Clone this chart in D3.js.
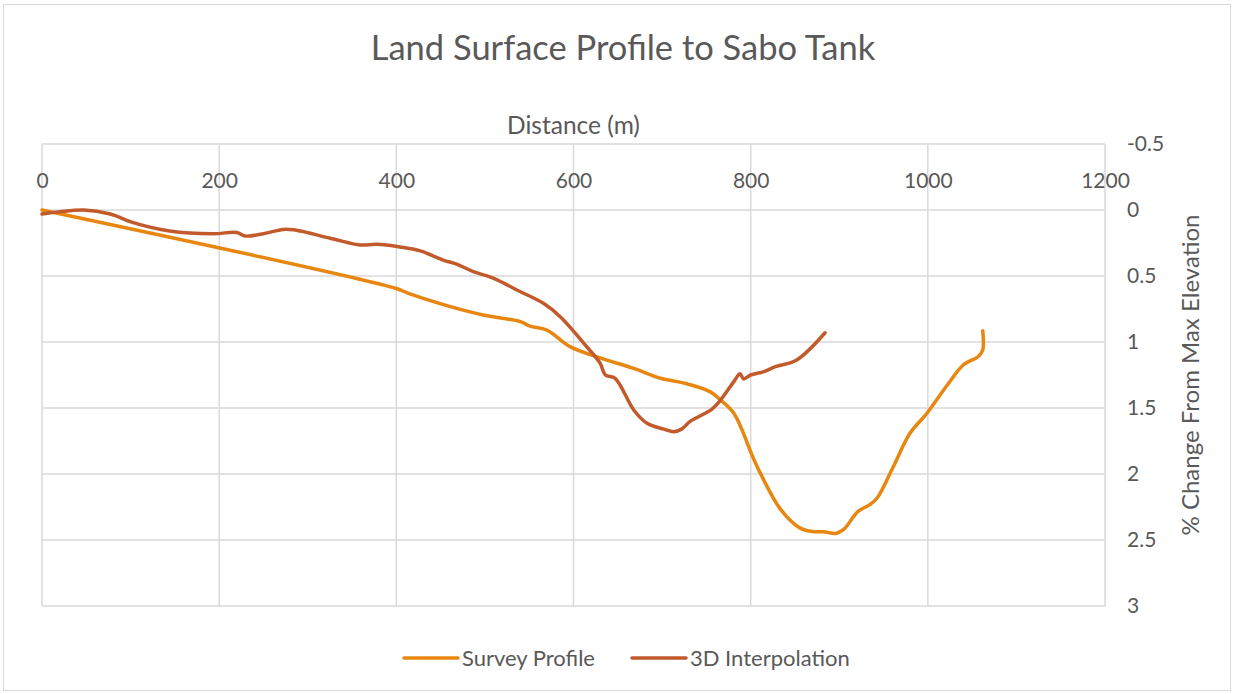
<!DOCTYPE html>
<html>
<head>
<meta charset="utf-8">
<script src="https://cdn.jsdelivr.net/npm/d3@7"></script>
<style>
  body { margin: 0; background: #fff; }
  text { font-family: Lato, "Open Sans", sans-serif; fill: #595959; }
</style>
</head>
<body>
<div id="chart"></div>
<script>
var width = 1234;
var height = 694;

// distance (m) and % change from max elevation
var surveyDist = [0, 400, 413, 460, 498, 540, 551, 570, 596, 630, 668, 698, 724, 754, 766, 781,
                  803, 811, 834, 856, 871, 882, 896, 905, 921, 935, 943, 961, 980, 999, 1022,
                  1040, 1057, 1062, 1062];
var surveyChange = [0, 0.595, 0.63, 0.73, 0.795, 0.846, 0.88, 0.91, 1.035, 1.12, 1.2, 1.275, 1.31,
                    1.376, 1.44, 1.54, 1.88, 1.995, 2.27, 2.41, 2.437, 2.437, 2.45, 2.42, 2.285,
                    2.23, 2.18, 1.945, 1.69, 1.54, 1.326, 1.174, 1.11, 1.06, 0.915];

var interpDist = [0, 20, 47, 77, 103, 144, 193, 220, 229, 250, 272, 284, 329, 359, 378, 404,
                  427, 453, 468, 487, 510, 536, 566, 585, 615, 630, 636, 647, 668, 683, 702,
                  713, 722, 732, 756, 766, 781, 788, 792, 800, 815, 828, 852, 884];
var interpChange = [0.03, 0.013, 0, 0.03, 0.096, 0.159, 0.18, 0.17, 0.197, 0.18, 0.147, 0.15,
                    0.22, 0.265, 0.26, 0.28, 0.31, 0.379, 0.41, 0.467, 0.518, 0.606, 0.707,
                    0.808, 1.036, 1.16, 1.25, 1.275, 1.515, 1.616, 1.66, 1.68, 1.66, 1.6, 1.51,
                    1.44, 1.3, 1.24, 1.28, 1.25, 1.225, 1.187, 1.136, 0.93];

var xTicks = [0, 200, 400, 600, 800, 1000, 1200];
var yTicks = [-0.5, 0, 0.5, 1, 1.5, 2, 2.5, 3];

var seriesNames = ["Survey Profile", "3D Interpolation"];
var seriesColors = ["#e8870f", "#c25a2c"];

var plot = {left: 42, right: 1105, top: 144, bottom: 606};

var x = d3.scaleLinear().domain([0, 1200]).range([plot.left, plot.right]);
var y = d3.scaleLinear().domain([-0.5, 3]).range([plot.top, plot.bottom]);

var svg = d3.select("#chart")
    .append("svg")
    .attr("width", width)
    .attr("height", height);

svg.append("rect")
    .attr("x", 3.5).attr("y", 4.5)
    .attr("width", width - 7).attr("height", height - 8)
    .attr("fill", "#fff")
    .attr("stroke", "#d9d9d9");

svg.append("text")
    .attr("x", 623).attr("y", 60)
    .attr("text-anchor", "middle")
    .style("font-size", "34.5px")
    .text("Land Surface Profile to Sabo Tank");

// grid
var grid = svg.append("g");
grid.selectAll("line.h")
    .data(yTicks)
    .enter().append("line")
    .attr("class", "h")
    .attr("x1", plot.left).attr("x2", plot.right)
    .attr("y1", function(d) {return y(d)})
    .attr("y2", function(d) {return y(d)})
    .attr("stroke", "#d9d9d9").attr("stroke-width", 1.5);
grid.selectAll("line.v")
    .data(xTicks)
    .enter().append("line")
    .attr("class", "v")
    .attr("y1", plot.top).attr("y2", plot.bottom)
    .attr("x1", function(d) {return x(d)})
    .attr("x2", function(d) {return x(d)})
    .attr("stroke", "#d9d9d9").attr("stroke-width", 1.5);

// x axis labels sit above the 0 line (reversed value axis)
var xAxis = d3.axisTop(x).tickValues(xTicks).tickSize(0).tickPadding(22)
    .tickFormat(function(d) {return String(d)});
svg.append("g")
    .attr("transform", "translate(0," + y(0) + ")")
    .call(xAxis)
    .call(function(g) {g.select(".domain").remove()})
    .selectAll("text")
    .style("font-size", "21px")
    .style("fill", "#595959")
    .style("font-family", "Lato, sans-serif");

var yAxis = d3.axisRight(y).tickValues(yTicks).tickSize(0).tickPadding(22)
    .tickFormat(function(d) {return String(d)});
svg.append("g")
    .attr("transform", "translate(" + plot.right + ",0)")
    .call(yAxis)
    .call(function(g) {g.select(".domain").remove()})
    .selectAll("text")
    .style("font-size", "21px")
    .style("fill", "#595959")
    .style("font-family", "Lato, sans-serif");

svg.append("text")
    .attr("x", (plot.left + plot.right) / 2).attr("y", 134)
    .attr("text-anchor", "middle")
    .style("font-size", "24.5px")
    .text("Distance (m)");

svg.append("text")
    .attr("transform", "translate(1199," + (plot.top + plot.bottom) / 2 + ") rotate(-90)")
    .attr("text-anchor", "middle")
    .style("font-size", "24px")
    .text("% Change From Max Elevation");

// series
var series = [
  d3.zip(surveyDist, surveyChange),
  d3.zip(interpDist, interpChange)
];

var line = d3.line()
    .x(function(d) {return x(d[0])})
    .y(function(d) {return y(d[1])})
    .curve(d3.curveCatmullRom.alpha(0.5));

svg.selectAll("path.series")
    .data(series)
    .enter().append("path")
    .attr("class", "series")
    .attr("d", line)
    .attr("fill", "none")
    .attr("stroke", function(d, i) {return seriesColors[i]})
    .attr("stroke-width", 3.5)
    .attr("stroke-linecap", "round")
    .attr("stroke-linejoin", "round");

// legend
var legendX = [404, 632];
var legend = svg.selectAll("g.legend")
    .data(seriesNames)
    .enter().append("g")
    .attr("class", "legend")
    .attr("transform", function(d, i) {return "translate(" + legendX[i] + ",658)"});
legend.append("line")
    .attr("x1", 0).attr("x2", 54)
    .attr("stroke", function(d, i) {return seriesColors[i]})
    .attr("stroke-width", 3.5)
    .attr("stroke-linecap", "round");
legend.append("text")
    .attr("x", 58).attr("y", 8)
    .style("font-size", "22px")
    .text(function(d) {return d});
</script>
</body>
</html>
